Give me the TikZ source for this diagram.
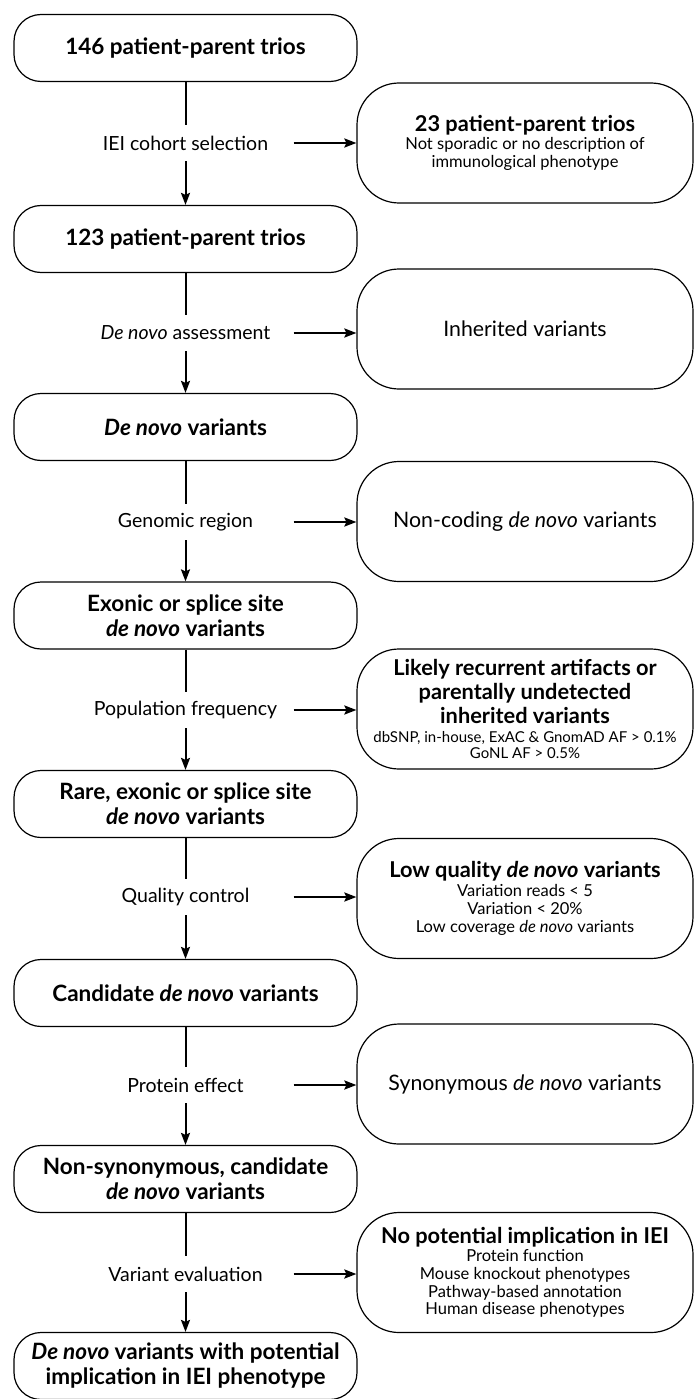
\documentclass[tikz,border=0pt]{standalone}
\usepackage{fontspec}
\setmainfont{Lato}
\usetikzlibrary{arrows.meta, positioning}

\newcommand{\stagefont}{\fontsize{22.5}{25}\selectfont\bfseries\lineskiplimit=-50pt}
\newcommand{\lblfont}{\fontsize{19.5}{22}\selectfont}
\newcommand{\headfont}{\fontsize{21.8}{24.5}\selectfont\bfseries}
\newcommand{\subfont}{\fontsize{16.5}{17.8}\selectfont\lineskiplimit=-50pt}
\newcommand{\smallsub}{\fontsize{15}{17.8}\selectfont}
\newcommand{\outfont}{\fontsize{21.3}{24}\selectfont}

\tikzset{
  stage/.style={draw, line width=1.2pt, rounded corners=27pt, minimum width=343pt,
    minimum height=67pt, inner sep=2pt, align=center, font=\stagefont},
  outbox/.style={draw, line width=1.2pt, rounded corners=42pt, minimum width=336pt,
    minimum height=120pt, inner sep=2pt, align=center, font=\subfont},
  filterlbl/.style={minimum width=216pt, minimum height=36pt, inner sep=0pt, font=\lblfont},
  plain/.style={line width=2pt},
  flow/.style={line width=2pt, -{Stealth[length=12pt, width=9pt, inset=2pt]}},
  side/.style={line width=2.2pt, -{Stealth[length=12pt, width=9pt, inset=2pt]}}
}

\begin{document}
\begin{tikzpicture}[x=1pt, y=-1pt]
    \useasboundingbox (0,0) rectangle (694,1399);

    % ==== Stages (left column) ====
    \node[stage] (s1) at (185.5,48) {146 patient-parent trios};
    \node[stage] (s2) at (185.5,239) {123 patient-parent trios};
    \node[stage] (s3) at (185.5,427) {\textit{De novo} variants};
    \node[stage] (s4) at (185.5,615.5) {Exonic or splice site\\\textit{de novo} variants};
    \node[stage] (s5) at (185.5,804) {Rare, exonic or splice site\\\textit{de novo} variants};
    \node[stage] (s6) at (185.5,993) {Candidate \textit{de novo} variants};
    \node[stage] (s7) at (185.5,1179) {Non-synonymous, candidate\\\textit{de novo} variants};
    \node[stage] (s8) at (185.5,1366) {\textit{De novo} variants with potential\\implication in IEI phenotype};

    % ==== Filter steps ====
    \node[filterlbl] (f1) at (185.5,143) {IEI cohort selection};
    \node[filterlbl] (f2) at (185.5,333) {\textit{De novo} assessment};
    \node[filterlbl] (f3) at (185.5,522) {Genomic region};
    \node[filterlbl] (f4) at (185.5,710) {Population frequency};
    \node[filterlbl] (f5) at (185.5,897) {Quality control};
    \node[filterlbl] (f6) at (185.5,1085) {Protein effect};
    \node[filterlbl] (f7) at (185.5,1274) {Variant evaluation};

    % ==== Excluded (right column) ====
    \node[outbox] (x1) at (525,143) {\headfont 23 patient-parent trios\\
      Not sporadic or no description of\\immunological phenotype};
    \node[outbox, font=\outfont] (x2) at (525,329) {Inherited variants};
    \node[outbox, font=\outfont] (x3) at (525,521.5) {Non-coding \textit{de novo} variants};
    \node[outbox] (x4) at (525,709) {\headfont Likely recurrent artifacts or\\[6.5pt]
      \headfont parentally undetected\\[6.5pt]\headfont inherited variants\\[1pt]
      \smallsub dbSNP, in-house, ExAC \& GnomAD AF > 0.1\%\\[-1.5pt]\smallsub GoNL AF > 0.5\%};
    \node[outbox] (x5) at (525,898.5) {\headfont Low quality \textit{de novo} variants\\[1pt]
      Variation reads < 5\\Variation < 20\%\\Low coverage \textit{de novo} variants};
    \node[outbox, font=\outfont] (x6) at (525,1084) {Synonymous \textit{de novo} variants};
    \node[outbox] (x7) at (525,1272.5) {\headfont No potential implication in IEI\\
      Protein function\\Mouse knockout phenotypes\\Pathway-based annotation\\Human disease phenotypes};

    % ==== Connectors ====
    \draw[plain] (s1) -- (f1);
    \draw[flow] (f1) -- (s2);
    \draw[side] (f1) -- (x1);
    \draw[plain] (s2) -- (f2);
    \draw[flow] (f2) -- (s3);
    \draw[side] (f2) -- (x2.west |- f2);
    \draw[plain] (s3) -- (f3);
    \draw[flow] (f3) -- (s4);
    \draw[side] (f3) -- (x3.west |- f3);
    \draw[plain] (s4) -- (f4);
    \draw[flow] (f4) -- (s5);
    \draw[side] (f4) -- (x4.west |- f4);
    \draw[plain] (s5) -- (f5);
    \draw[flow] (f5) -- (s6);
    \draw[side] (f5) -- (x5.west |- f5);
    \draw[plain] (s6) -- (f6);
    \draw[flow] (f6) -- (s7);
    \draw[side] (f6) -- (x6.west |- f6);
    \draw[plain] (s7) -- (f7);
    \draw[flow] (f7) -- (s8);
    \draw[side] (f7) -- (x7.west |- f7);
\end{tikzpicture}
\end{document}
